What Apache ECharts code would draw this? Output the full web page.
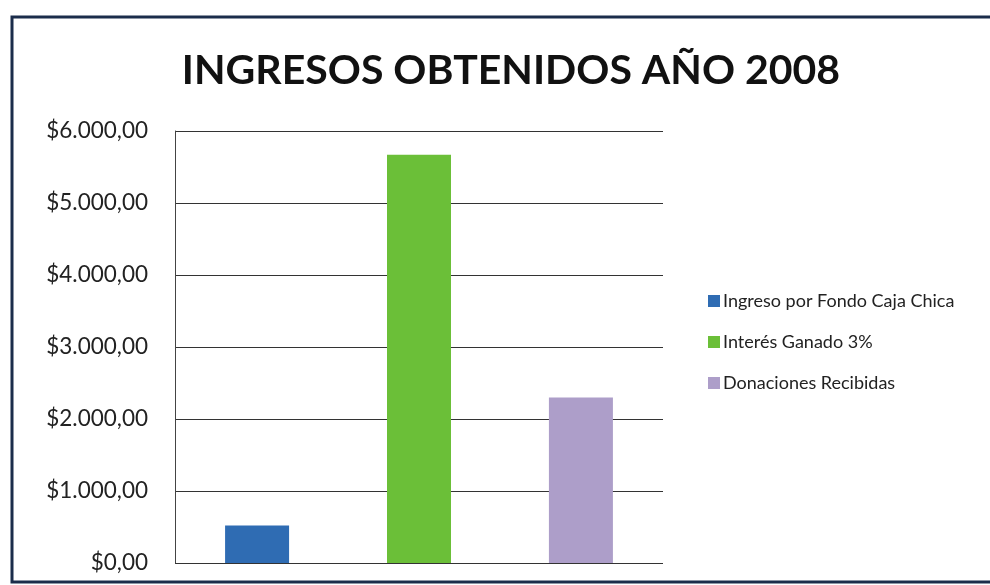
<!DOCTYPE html>
<html>
<head>
<meta charset="utf-8">
<script src="https://cdn.jsdelivr.net/npm/echarts@6/dist/echarts.min.js"></script>
<style>
html,body{margin:0;padding:0;background:#fff;}
#c{width:990px;height:585px;}
</style>
</head>
<body>
<div id="c"></div>
<script>
var titleText = 'INGRESOS OBTENIDOS AÑO 2008';
var categories = ['2008'];
var seriesNames = ['Ingreso por Fondo Caja Chica', 'Interés Ganado 3%', 'Donaciones Recibidas'];
var seriesValues = [520, 5670, 2300];
var seriesColors = ['#2f6cb3', '#6bbf38', '#ad9ec9'];
var yTicks = [0, 1000, 2000, 3000, 4000, 5000, 6000];

function fmtMoney(v) {
  var s = String(Math.round(v)).replace(/\B(?=(\d{3})+(?!\d))/g, '.');
  return '$' + s + ',00';
}

var chart = echarts.init(document.getElementById('c'));
var series = seriesNames.map(function (n, i) {
  return {
    name: n,
    type: 'bar',
    data: [seriesValues[i]],
    barWidth: 64,
    barGap: '153%',
    itemStyle: { color: seriesColors[i] }
  };
});

chart.setOption({
  animation: false,
  backgroundColor: '#fff',
  title: {
    text: titleText,
    left: 506,
    textAlign: 'center',
    top: 45,
    textStyle: { fontFamily: 'Lato', fontWeight: 'bold', fontSize: 41, color: '#111' }
  },
  legend: {
    orient: 'vertical',
    left: 703,
    top: 287,
    itemWidth: 12,
    itemHeight: 12,
    itemGap: 23,
    icon: 'rect',
    textStyle: { fontFamily: 'Lato', fontSize: 18, color: '#222', padding: [0, 0, 0, -2] },
    data: seriesNames
  },
  grid: { left: 175, right: 327, top: 131, bottom: 22, containLabel: false },
  xAxis: {
    type: 'category',
    data: categories,
    axisLine: { show: false },
    axisTick: { show: false },
    axisLabel: { show: false }
  },
  yAxis: {
    type: 'value',
    min: yTicks[0],
    max: yTicks[yTicks.length - 1],
    interval: yTicks[1] - yTicks[0],
    axisLine: { show: true, lineStyle: { color: '#444', width: 1 } },
    axisTick: { show: false },
    axisLabel: {
      formatter: fmtMoney,
      margin: 27,
      fontFamily: 'Lato',
      fontSize: 22.5,
      color: '#222'
    },
    splitLine: { show: true, lineStyle: { color: '#333', width: 1 } }
  },
  graphic: [{
    type: 'rect',
    shape: { x: 12, y: 17, width: 1000, height: 565 },
    style: { fill: 'none', stroke: '#1b2d4b', lineWidth: 3 },
    silent: true
  }],
  series: series
});
</script>
</body>
</html>
